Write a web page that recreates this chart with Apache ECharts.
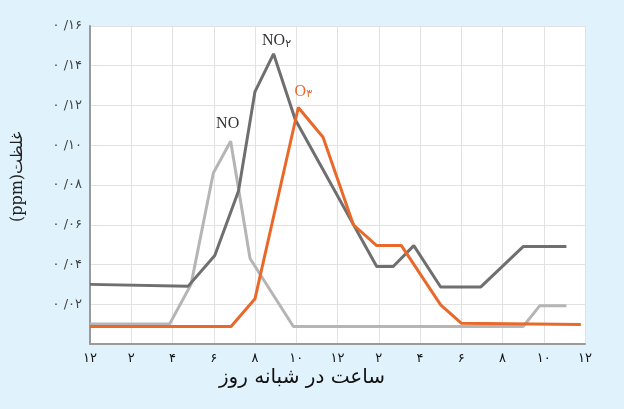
<!DOCTYPE html>
<html>
<head>
<meta charset="utf-8">
<script src="https://cdn.jsdelivr.net/npm/echarts@6/dist/echarts.min.js"></script>
<style>
  html, body { margin: 0; padding: 0; background: #e0f2fc; }
  #chart { width: 624px; height: 409px; }
</style>
</head>
<body>
<div id="chart"></div>
<script>
// hours (0 = 12 midnight) and concentrations in ppm
const no2Hours = [0, 4.75, 6.05, 7.2, 8.0, 8.9, 9.95, 13.9, 14.7, 15.7, 17.0, 18.95, 21.0, 23.1];
const no2Values = [0.030, 0.029, 0.0445, 0.077, 0.127, 0.146, 0.113, 0.039, 0.039, 0.0495, 0.0287, 0.0287, 0.049, 0.049];

const noHours = [0, 3.86, 4.9, 5.98, 6.82, 7.76, 9.86, 21.0, 21.8, 23.1];
const noValues = [0.0101, 0.0101, 0.030, 0.086, 0.102, 0.043, 0.0088, 0.0088, 0.0192, 0.0192];

const o3Hours = [0, 6.84, 8.0, 10.1, 11.3, 12.77, 13.9, 15.1, 17.0, 18.0, 23.8];
const o3Values = [0.0088, 0.0088, 0.0228, 0.119, 0.104, 0.060, 0.0495, 0.0495, 0.0197, 0.0105, 0.0098];

const hourTicks = ['12', '2', '4', '6', '8', '10', '12', '2', '4', '6', '8', '10', '12'];

const faDigits = '۰۱۲۳۴۵۶۷۸۹';
function toFa(s) {
  return String(s).replace(/[0-9]/g, d => faDigits[+d]);
}

function pairs(xs, ys) {
  return xs.map((x, i) => [x, ys[i]]);
}

function peakOf(xs, ys) {
  let k = 0;
  ys.forEach((v, i) => { if (v > ys[k]) k = i; });
  return [xs[k], ys[k]];
}

const serif = '"Liberation Serif", "DejaVu Serif", serif';

function peakLabel(xs, ys, text, color, offset, rich) {
  return {
    symbol: 'circle',
    symbolSize: 1,
    itemStyle: { color: 'rgba(0,0,0,0)' },
    silent: true,
    label: {
      show: true,
      position: 'top',
      distance: offset[1],
      offset: [offset[0], 0],
      formatter: text,
      color: color,
      fontFamily: serif,
      fontSize: 16,
      rich: rich || {}
    },
    data: [{ coord: peakOf(xs, ys) }]
  };
}

const chart = echarts.init(document.getElementById('chart'));

chart.setOption({
  backgroundColor: '#e0f2fc',
  animation: false,
  grid: {
    left: 90,
    right: 39,
    top: 26,
    bottom: 65,
    show: true,
    backgroundColor: '#ffffff',
    borderWidth: 0
  },
  xAxis: {
    type: 'value',
    min: 0,
    max: 24,
    interval: 2,
    axisLine: { lineStyle: { color: '#9a9a9a', width: 2 } },
    axisTick: { show: false },
    axisLabel: {
      margin: 8,
      color: '#111',
      fontSize: 13,
      fontFamily: '"DejaVu Sans", sans-serif',
      formatter: v => toFa(hourTicks[Math.round(v / 2)])
    },
    splitLine: { show: true, lineStyle: { color: '#e2e2e2', width: 1 } }
  },
  yAxis: {
    type: 'value',
    min: 0,
    max: 0.16,
    interval: 0.02,
    axisLine: { show: true, lineStyle: { color: '#9a9a9a', width: 2 } },
    axisTick: { show: false },
    axisLabel: {
      margin: 8,
      color: '#444',
      fontSize: 13,
      fontFamily: '"DejaVu Sans", sans-serif',
      formatter: v => {
        if (v === 0) return '';
        const h = String(Math.round(v * 100)).padStart(2, '0');
        return '۰ /' + toFa(h);
      }
    },
    splitLine: { show: true, lineStyle: { color: '#e2e2e2', width: 1 } }
  },
  graphic: [
    {
      type: 'text',
      x: 302,
      y: 378,
      style: {
        text: 'ساعت در شبانه روز',
        fill: '#111',
        font: '20px "DejaVu Sans", sans-serif',
        textAlign: 'center',
        textVerticalAlign: 'middle'
      }
    },
    {
      type: 'text',
      x: 18,
      y: 177,
      rotation: Math.PI / 2,
      style: {
        text: '(ppm)غلظت',
        fill: '#222',
        font: '16px "DejaVu Serif", serif',
        textAlign: 'center',
        textVerticalAlign: 'middle'
      }
    }
  ],
  series: [
    {
      name: 'NO',
      type: 'line',
      symbol: 'none',
      lineStyle: { color: '#b5b5b5', width: 3 },
      data: pairs(noHours, noValues),
      markPoint: peakLabel(noHours, noValues, 'NO', '#333', [-3, 9])
    },
    {
      name: 'NO2',
      type: 'line',
      symbol: 'none',
      lineStyle: { color: '#6f6f6f', width: 3 },
      data: pairs(no2Hours, no2Values),
      markPoint: peakLabel(no2Hours, no2Values, '{a|NO}{b|۲}', '#333', [3, 4], {
        a: { fontFamily: serif, fontSize: 16, color: '#333' },
        b: { fontFamily: '"DejaVu Sans", sans-serif', fontSize: 11, color: '#333', padding: [6, 0, 0, 0] }
      })
    },
    {
      name: 'O3',
      type: 'line',
      symbol: 'none',
      lineStyle: { color: '#e8692a', width: 3 },
      data: pairs(o3Hours, o3Values),
      markPoint: peakLabel(o3Hours, o3Values, '{a|O}{b|۳}', '#e8692a', [5, 7], {
        a: { fontFamily: serif, fontSize: 16, color: '#e8692a' },
        b: { fontFamily: '"DejaVu Sans", sans-serif', fontSize: 11, color: '#e8692a', padding: [6, 0, 0, 0] }
      })
    }
  ]
});
</script>
</body>
</html>
